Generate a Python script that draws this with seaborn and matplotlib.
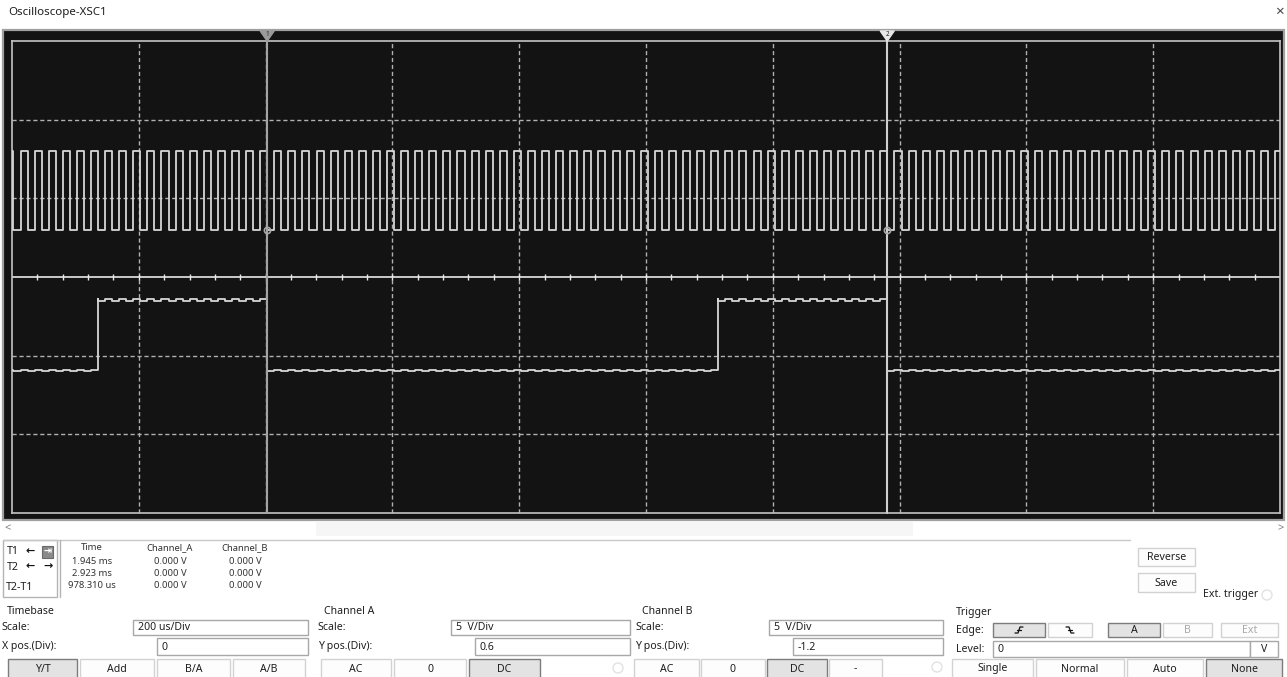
import numpy as np
import matplotlib
matplotlib.use("Agg")
import matplotlib.pyplot as plt
import seaborn as sns
from matplotlib.patches import Rectangle, Circle, Polygon

# ------------------------------------------------------------
# values
# ------------------------------------------------------------
TIME_PER_DIV_MS = 0.2
SCREEN_START_MS = 1.5425
N_XDIV = 10
N_YDIV = 6

T1_MS = 1.945
T2_MS = 2.923
cursor_cha_v = [0.0, 0.0]

CLK_PERIOD_US = 22.234
CLK_HIGH_US = 11.1
CLK_FALL_REF_MS = 1.945

CH_A_HIGH_V = 5.0
CH_A_SCALE_V = 5.0
CH_A_YPOS = 0.6

CH_B_HIGH_V = 4.5
CH_B_SCALE_V = 5.0
CH_B_YPOS = -1.2
CH_B_RISE_MS = [1.678, 2.656]
CH_B_FALL_MS = [1.945, 2.923]
CH_B_RIPPLE_V = 0.1

readout_header = ["Time", "Channel_A", "Channel_B"]
readout_time = ["1.945 ms", "2.923 ms", "978.310 us"]
readout_cha = ["0.000 V", "0.000 V", "0.000 V"]
readout_chb = ["0.000 V", "0.000 V", "0.000 V"]

timebase_scale = "200 us/Div"
timebase_xpos = "0"
cha_scale = "5  V/Div"
cha_ypos = "0.6"
chb_scale = "5  V/Div"
chb_ypos = "-1.2"
trig_level = "0"

sns.set_theme(style="white")
plt.rcParams["font.family"] = ["Noto Sans", "DejaVu Sans"]

FS = 7.6
TXT = "#1e1e1e"
SCREEN_BG = "#131313"

# ------------------------------------------------------------
# waveforms
# ------------------------------------------------------------
t_end = SCREEN_START_MS + N_XDIV * TIME_PER_DIV_MS
period = CLK_PERIOD_US / 1000.0
high = CLK_HIGH_US / 1000.0
n_lo = int(np.floor((SCREEN_START_MS - CLK_FALL_REF_MS) / period)) - 1
n_hi = int(np.ceil((t_end - CLK_FALL_REF_MS) / period)) + 1
falls = CLK_FALL_REF_MS + np.arange(n_lo, n_hi + 1) * period
rises = falls - high
edges = np.concatenate([falls, rises, CH_B_RISE_MS, CH_B_FALL_MS, [SCREEN_START_MS]])
edges = np.unique(edges[(edges >= SCREEN_START_MS) & (edges < t_end)])
mids = (edges + np.append(edges[1:], t_end)) / 2
phase = np.mod(mids - CLK_FALL_REF_MS, period)
clk = (phase >= period - high).astype(float)
b_on = np.zeros_like(mids)
for r, f in zip(CH_B_RISE_MS, CH_B_FALL_MS):
    b_on[(mids >= r) & (mids < f)] = 1.0

a_div = CH_A_HIGH_V * clk / CH_A_SCALE_V + CH_A_YPOS
b_div = (CH_B_HIGH_V * b_on + CH_B_RIPPLE_V * clk) / CH_B_SCALE_V + CH_B_YPOS
t_steps = np.append(edges, t_end)
a_steps = np.append(a_div, a_div[-1])
b_steps = np.append(b_div, b_div[-1])

# ------------------------------------------------------------
# figure: pixel-space UI layer + scope screen axes
# ------------------------------------------------------------
W, H = 1287, 677
fig = plt.figure(figsize=(W / 100, H / 100), dpi=100)
fig.patch.set_facecolor("white")

ui = fig.add_axes([0, 0, 1, 1], zorder=0)
ui.set_xlim(0, W)
ui.set_ylim(H, 0)
ui.axis("off")

# window title
ui.text(8, 13, "Oscilloscope-XSC1", fontsize=8.3, color=TXT, va="center", ha="left")
ui.text(1279, 12, "\u00d7", fontsize=11, color="#444444", va="center", ha="center")

# black screen frame
ui.add_patch(Rectangle((3, 30), 1281, 490, fc=SCREEN_BG, ec="#a0a0a0", lw=1.6))

gx0, gx1, gy0, gy1 = 12, 1280, 41, 513
sc = fig.add_axes([gx0 / W, 1 - gy1 / H, (gx1 - gx0) / W, (gy1 - gy0) / H], zorder=1)
sc.set_facecolor(SCREEN_BG)
sc.set_xlim(SCREEN_START_MS, t_end)
sc.set_ylim(-N_YDIV / 2, N_YDIV / 2)
sc.set_xticks([])
sc.set_yticks([])
sc.set_xlabel("")
sc.set_ylabel("")
for s in sc.spines.values():
    s.set_color("#c4c4c4")
    s.set_linewidth(1.2)

grid_kw = dict(color="#b0b0b0", lw=1.0, linestyle=(0, (3, 2)), zorder=1)
for i in range(1, N_XDIV):
    sc.axvline(SCREEN_START_MS + i * TIME_PER_DIV_MS, **grid_kw)
for j in range(-N_YDIV // 2 + 1, N_YDIV // 2):
    if j != 0:
        sc.axhline(j, **grid_kw)
sc.axhline(0, color="#e8e8e8", lw=1.2, zorder=1)
minor = SCREEN_START_MS + np.arange(1, N_XDIV * 5) * TIME_PER_DIV_MS / 5
sc.vlines(minor, -0.04, 0.04, color="#e8e8e8", lw=1.0, zorder=1)

sns.lineplot(x=t_steps, y=a_steps, ax=sc, estimator=None, sort=False,
             drawstyle="steps-post", color="#d6d6d6", lw=1.3, zorder=3)
sns.lineplot(x=t_steps, y=b_steps, ax=sc, estimator=None, sort=False,
             drawstyle="steps-post", color="#d6d6d6", lw=1.3, zorder=3)

# cursors
xform = sc.get_xaxis_transform()
half_w = 7 * (t_end - SCREEN_START_MS) / (gx1 - gx0)
top_y = 1 + 10 / (gy1 - gy0)
for tc, lab, lc, tc_fill, va in [(T1_MS, "1", "#a4a4a4", "#9a9a9a", cursor_cha_v[0]),
                                  (T2_MS, "2", "#cfcfcf", "#e6e6e6", cursor_cha_v[1])]:
    sc.axvline(tc, ymin=0, ymax=top_y, clip_on=False, color=lc, lw=1.5, zorder=4)
    sc.add_patch(Polygon([(tc - half_w, top_y), (tc + half_w, top_y), (tc, 1.0)],
                         closed=True, transform=xform, clip_on=False,
                         fc=tc_fill, ec=tc_fill, zorder=5))
    sc.text(tc, 1 + 6 / (gy1 - gy0), lab, transform=xform, fontsize=4.5,
            ha="center", va="center", color="#202020", zorder=6, clip_on=False)
    sc.plot(tc, va / CH_A_SCALE_V + CH_A_YPOS, marker="o", ms=4.5, mfc="none",
            mec="#a8a8a8", mew=1.2, zorder=6)

# scroll bar
ui.add_patch(Rectangle((316, 522), 597, 14, fc="#f6f6f6", ec="none"))
ui.text(8, 529, "<", fontsize=8, color="#7a7a7a", ha="center", va="center")
ui.text(1281, 529, ">", fontsize=8, color="#7a7a7a", ha="center", va="center")


# ------------------------------------------------------------
# control panel helpers
# ------------------------------------------------------------
def button(x0, x1, y0, y1, label, pressed=False, disabled=False):
    fc = "#e3e3e3" if pressed else "#fdfdfd"
    ec = "#7c7c7c" if pressed else "#d2d2d2"
    ui.add_patch(Rectangle((x0, y0), x1 - x0, y1 - y0, fc=fc, ec=ec, lw=1.0))
    if label:
        ui.text((x0 + x1) / 2, (y0 + y1) / 2 + 0.5, label, fontsize=FS,
                ha="center", va="center", color="#a9a9a9" if disabled else TXT)


def textbox(x0, x1, y0, y1, text, center=False):
    ui.add_patch(Rectangle((x0, y0), x1 - x0, y1 - y0, fc="white", ec="#a8a8a8", lw=1.0))
    if center:
        ui.text((x0 + x1) / 2, (y0 + y1) / 2 + 0.5, text, fontsize=FS, ha="center", va="center", color=TXT)
    else:
        ui.text(x0 + 5, (y0 + y1) / 2 + 0.5, text, fontsize=FS, ha="left", va="center", color=TXT)


def label(x, y, text, color=TXT, ha="left"):
    ui.text(x, y, text, fontsize=FS, ha=ha, va="center", color=color)


def radio(x, y):
    ui.add_patch(Circle((x, y), 5, fc="white", ec="#e2e2e2", lw=1.0))


# cursor readout
ui.plot([3, 1130], [540, 540], color="#c8c8c8", lw=1.0)
ui.add_patch(Rectangle((3, 540), 54, 57, fc="white", ec="#b4b4b4", lw=1.0))
ui.plot([60, 60], [540, 597], color="#b4b4b4", lw=1.0)
label(7, 552, "T1")
label(7, 567, "T2")
label(6, 588, "T2-T1")
ui.text(30, 552, "\u2190", fontsize=8, fontweight="bold", ha="center", va="center", color="#111111")
ui.add_patch(Rectangle((42, 546), 11, 12, fc="#8a8a8a", ec="#6a6a6a", lw=0.8))
ui.text(47.5, 552, "\u21e5", fontsize=7, ha="center", va="center", color="white", fontweight="bold")
ui.text(30, 567, "\u2190", fontsize=8, fontweight="bold", ha="center", va="center", color="#111111")
ui.text(48, 567, "\u2192", fontsize=8, fontweight="bold", ha="center", va="center", color="#111111")

col_x = [92, 170, 245]
row_y = [561, 573.5, 586]
for cx, head in zip(col_x, readout_header):
    ui.text(cx, 548, head, fontsize=6.8, ha="center", va="center", color="#333333")
for col, cx in zip([readout_time, readout_cha, readout_chb], col_x):
    for val, ry in zip(col, row_y):
        ui.text(cx, ry, val, fontsize=6.8, ha="center", va="center", color="#333333")

# timebase
label(7, 612, "Timebase")
label(2, 628, "Scale:")
textbox(133, 308, 620, 635, timebase_scale)
label(2, 647, "X pos.(Div):")
textbox(157, 308, 638, 655, timebase_xpos)
button(8, 77, 659, 678, "Y/T", pressed=True)
button(80, 154, 659, 678, "Add")
button(157, 230, 659, 678, "B/A")
button(233, 305, 659, 678, "A/B")

# channel A
label(324, 612, "Channel A")
label(318, 628, "Scale:")
textbox(451, 630, 620, 635, cha_scale)
label(318, 647, "Y pos.(Div):")
textbox(475, 630, 638, 655, cha_ypos)
button(321, 391, 659, 678, "AC")
button(394, 466, 659, 678, "0")
button(469, 540, 659, 678, "DC", pressed=True)
radio(618, 668)

# channel B
label(642, 612, "Channel B")
label(635, 628, "Scale:")
textbox(769, 943, 620, 635, chb_scale)
label(635, 647, "Y pos.(Div):")
textbox(793, 943, 638, 655, chb_ypos)
button(634, 699, 659, 678, "AC")
button(701, 765, 659, 678, "0")
button(767, 827, 659, 678, "DC", pressed=True)
button(829, 882, 659, 678, "-")
radio(937, 667)

# trigger
label(956, 612, "Trigger")
label(956, 630, "Edge:")
button(993, 1045, 623, 637, "", pressed=True)
button(1048, 1092, 623, 637, "")
# rising / falling edge glyphs
ex, ey = 1019, 630
ui.plot([ex - 4, ex - 1, ex + 1, ex + 4], [ey + 3, ey + 3, ey - 3, ey - 3], color="#111111", lw=0.9)
ui.plot([ex - 2, ex + 2], [ey, ey], color="#111111", lw=0.9)
fx, fy = 1070, 630
ui.plot([fx - 4, fx - 1, fx + 1, fx + 4], [fy - 3, fy - 3, fy + 3, fy + 3], color="#111111", lw=0.9)
ui.plot([fx - 2, fx + 2], [fy, fy], color="#111111", lw=0.9)
button(1108, 1160, 623, 637, "A", pressed=True)
button(1163, 1212, 623, 637, "B", disabled=True)
button(1221, 1278, 623, 637, "Ext", disabled=True)
label(956, 649, "Level:")
textbox(993, 1250, 641, 657, trig_level)
textbox(1250, 1278, 641, 657, "V", center=True)
button(952, 1033, 659, 678, "Single")
button(1036, 1124, 659, 678, "Normal")
button(1127, 1203, 659, 678, "Auto")
button(1206, 1282, 659, 678, "None", pressed=True)

button(1138, 1195, 548, 566, "Reverse")
button(1138, 1195, 573, 592, "Save")
label(1203, 595, "Ext. trigger")
radio(1267, 595)

fig.savefig("out.png", dpi=100, facecolor=fig.get_facecolor())
